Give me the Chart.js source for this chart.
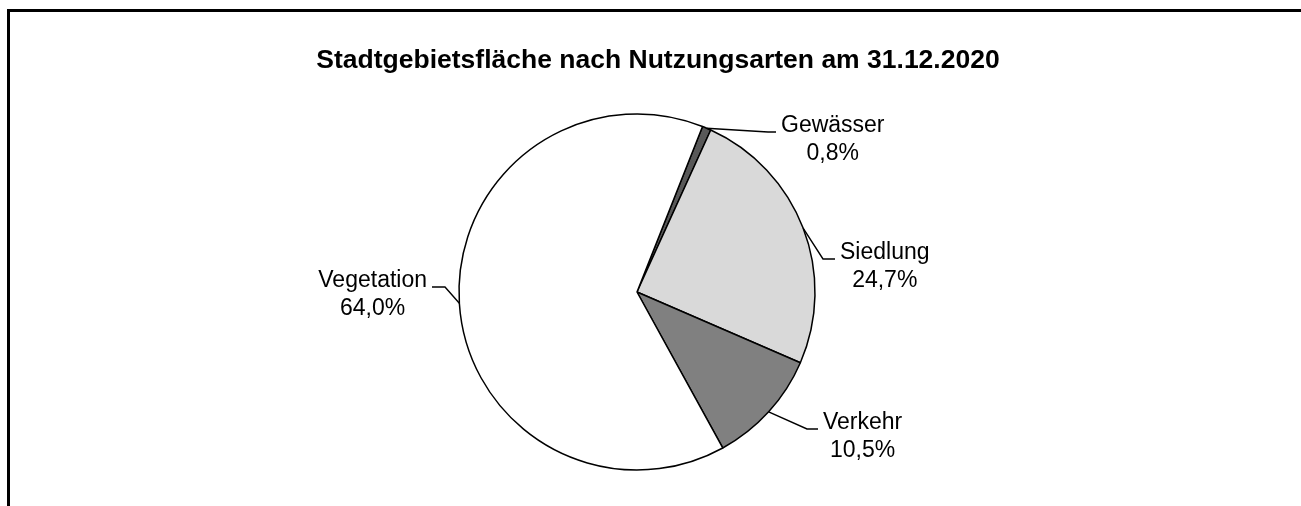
<!DOCTYPE html>
<html>
<head>
<meta charset="utf-8">
<script src="https://cdn.jsdelivr.net/npm/chart.js@4"></script>
<style>
    html, body { margin: 0; padding: 0; background: #fff; overflow: hidden; }
    #frame {
        position: absolute; left: 7px; top: 9px;
        border-left: 3px solid #000; border-top: 3px solid #000;
        width: 1296px; height: 494px;
    }
    canvas { display: block; }
</style>
</head>
<body>
<div id="frame"><canvas id="chart" width="1296" height="494"></canvas></div>
<script>
const titleText = 'Stadtgebietsfläche nach Nutzungsarten am 31.12.2020';
const categories = ['Gewässer', 'Siedlung', 'Verkehr', 'Vegetation'];
const shares = [0.8, 24.7, 10.5, 64.0];
const sliceColors = ['#595959', '#d9d9d9', '#808080', '#ffffff'];

// where each label's leader line bends (offset from pie centre, px), and where it ends
const leaderBend = [[131, -160], [186, -33], [170, 137], [-192, -5]];
const leaderEnd = [139, 198, 181, -205];

const fmt = v => v.toFixed(1).replace('.', ',') + '%';

const pieLabels = {
    id: 'pieLabels',
    afterDraw(chart) {
        const ctx = chart.ctx;
        const arcs = chart.getDatasetMeta(0).data;
        ctx.save();

        // title
        ctx.fillStyle = '#000';
        ctx.font = "bold 26.5px 'Liberation Sans', Arial, sans-serif";
        ctx.textAlign = 'center';
        ctx.textBaseline = 'alphabetic';
        ctx.fillText(titleText, chart.width / 2, 56);

        ctx.font = "23px 'Liberation Sans', Arial, sans-serif";
        ctx.strokeStyle = '#000';
        ctx.lineWidth = 1.4;
        arcs.forEach((arc, i) => {
            const mid = (arc.startAngle + arc.endAngle) / 2;
            const sx = arc.x + Math.cos(mid) * arc.outerRadius;
            const sy = arc.y + Math.sin(mid) * arc.outerRadius;
            const bx = arc.x + leaderBend[i][0];
            const by = arc.y + leaderBend[i][1];
            const ex = arc.x + leaderEnd[i];
            ctx.beginPath();
            ctx.moveTo(sx, sy);
            ctx.lineTo(bx, by);
            ctx.lineTo(ex, by);
            ctx.stroke();

            const right = ex > bx;
            const w = ctx.measureText(categories[i]).width;
            const left = right ? ex + 5 : ex - 5 - w;
            const cx = left + w / 2;
            ctx.textAlign = 'center';
            ctx.fillText(categories[i], cx, by);
            ctx.fillText(fmt(shares[i]), cx, by + 28);
        });
        ctx.restore();
    }
};

new Chart(document.getElementById('chart'), {
    type: 'pie',
    data: {
        labels: categories,
        datasets: [{
            data: shares,
            backgroundColor: sliceColors,
            borderColor: '#000',
            borderWidth: 1.5
        }]
    },
    options: {
        responsive: false,
        animation: false,
        rotation: 21.6,
        radius: 178,
        layout: { padding: { left: 0, right: 42, top: 66, bottom: 0 } },
        plugins: {
            legend: { display: false },
            tooltip: { enabled: false },
            title: { display: false }
        },
        events: []
    },
    plugins: [pieLabels]
});
</script>
</body>
</html>
